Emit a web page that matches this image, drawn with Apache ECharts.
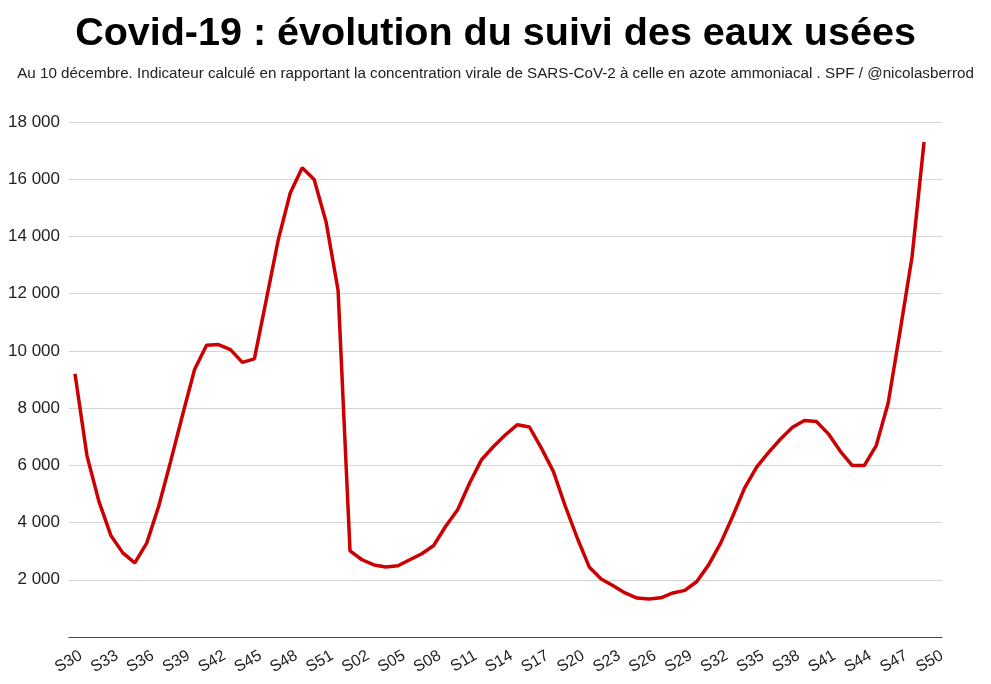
<!DOCTYPE html>
<html>
<head>
<meta charset="utf-8">
<script src="https://cdn.jsdelivr.net/npm/echarts@6/dist/echarts.min.js"></script>
<style>html,body{margin:0;padding:0;background:#fff;}#c{width:991px;height:684px;}</style>
</head>
<body>
<div id="c"></div>
<script>
var weeks = ['S30','S31','S32','S33','S34','S35','S36','S37','S38','S39','S40','S41','S42','S43','S44','S45','S46','S47','S48','S49','S50','S51','S52',
  'S01','S02','S03','S04','S05','S06','S07','S08','S09','S10','S11','S12','S13','S14','S15','S16','S17','S18','S19','S20','S21','S22','S23','S24','S25','S26','S27','S28','S29','S30','S31','S32','S33','S34','S35','S36','S37','S38','S39','S40','S41','S42','S43','S44','S45','S46','S47','S48','S49','S50'];
var indicator = [9200,6340,4740,3550,2940,2590,3280,4570,6140,7770,9350,10200,10220,10045,9600,9720,11790,13890,15520,16400,15990,14500,12120,
  3010,2700,2520,2450,2490,2700,2910,3200,3870,4450,5380,6200,6660,7070,7420,7340,6600,5790,4570,3460,2450,2030,1790,1540,1360,1330,1370,1540,1630,1940,2530,3290,4220,5210,5940,6450,6920,7330,7570,7530,7100,6490,5990,5990,6690,8180,10700,13300,17300,null];
var yTicks = {min:0, max:18000, interval:2000};
var titleText = 'Covid-19 : évolution du suivi des eaux usées';
var subtitleText = 'Au 10 décembre. Indicateur calculé en rapportant la concentration virale de SARS-CoV-2 à celle en azote ammoniacal . SPF / @nicolasberrod';

var chart = echarts.init(document.getElementById('c'));
chart.setOption({
  animation: false,
  backgroundColor: '#fff',
  title: [{
    text: titleText, left: 'center', top: 9,
    textStyle: {fontFamily: 'Liberation Sans', fontSize: 39.5, fontWeight: 'bold', color: '#000'}
  },{
    text: subtitleText, left: 'center', top: 61,
    textStyle: {fontFamily: 'Liberation Sans', fontSize: 15.2, fontWeight: 'normal', color: '#222'}
  }],
  grid: {left: 69, right: 49, top: 122, bottom: 47, containLabel: false},
  xAxis: {
    type: 'category', data: weeks, boundaryGap: true,
    axisLine: {lineStyle: {color: '#444', width: 1}},
    axisTick: {show: false},
    axisLabel: {interval: 2, rotate: 30, color: '#222', fontFamily: 'Liberation Sans', fontSize: 16, margin: 21, padding: [0, -7, 0, 0]}
  },
  yAxis: {
    type: 'value', min: yTicks.min, max: yTicks.max, interval: yTicks.interval,
    axisLine: {show: false}, axisTick: {show: false},
    splitLine: {lineStyle: {color: '#d4d4d4', width: 1}},
    axisLabel: {
      color: '#222', fontFamily: 'Liberation Sans', fontSize: 17, margin: 9,
      formatter: function (v) { return v === 0 ? '' : String(v).replace(/\B(?=(\d{3})+(?!\d))/g, ' '); }
    }
  },
  series: [{
    type: 'line', data: indicator, showSymbol: false, symbol: 'none',
    lineStyle: {color: '#cc0000', width: 3.5}, connectNulls: false
  }]
});
</script>
</body>
</html>
